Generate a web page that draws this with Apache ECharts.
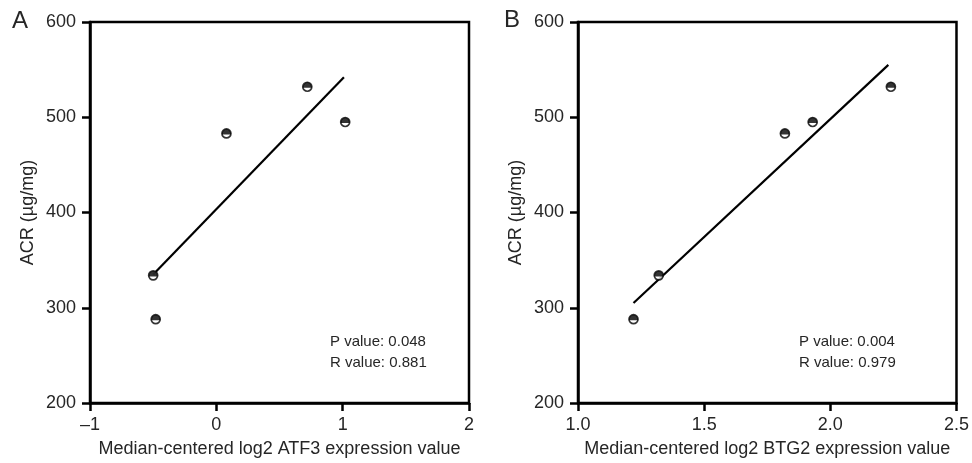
<!DOCTYPE html>
<html><head><meta charset="utf-8">
<script src="https://cdn.jsdelivr.net/npm/echarts@6/dist/echarts.min.js"></script>
<style>html,body{margin:0;padding:0;background:#fff}#c{width:972px;height:463px}</style>
</head><body><div id="c"></div>
<script>
// Data
const acr = [334, 288, 483, 532, 495];
const atf3 = [-0.50, -0.48, 0.08, 0.72, 1.02];
const btg2 = [1.32, 1.22, 1.82, 2.24, 1.93];
const fitA = [[-0.50, 335], [1.01, 542]];
const fitB = [[1.22, 305], [2.23, 555]];
const xTicksA = [-1, 0, 1, 2];
const xTicksB = [1.0, 1.5, 2.0, 2.5];
const yTicks = [200, 300, 400, 500, 600];
const xTitleA = 'Median-centered log2 ATF3 expression value';
const xTitleB = 'Median-centered log2 BTG2 expression value';
const yTitle = 'ACR (µg/mg)';
const statsA = ['P value: 0.048', 'R value: 0.881'];
const statsB = ['P value: 0.004', 'R value: 0.979'];

const FONT = '"Liberation Sans", Arial, sans-serif';
const TXT = '#262626';
const AX = 2.5;
const chart = echarts.init(document.getElementById('c'));

function xAxisCfg(idx, ticks, name, fmt) {
  return {
    gridIndex: idx, type: 'value', min: ticks[0], max: ticks[ticks.length - 1], interval: ticks[1] - ticks[0],
    name, nameLocation: 'middle', nameGap: 37,
    nameTextStyle: {fontFamily: FONT, fontSize: 18, color: TXT},
    axisLine: {show: true, onZero: false, lineStyle: {color: '#000', width: AX}},
    axisTick: {show: true, inside: false, length: 8, lineStyle: {color: '#000', width: AX}},
    axisLabel: {fontFamily: FONT, fontSize: 18, color: TXT, margin: 13, formatter: fmt},
    splitLine: {show: false}
  };
}
function yAxisCfg(idx) {
  return {
    gridIndex: idx, type: 'value', min: yTicks[0], max: yTicks[yTicks.length - 1], interval: yTicks[1] - yTicks[0],
    name: yTitle, nameLocation: 'middle', nameGap: 53,
    nameTextStyle: {fontFamily: FONT, fontSize: 18, color: TXT},
    axisLine: {show: true, onZero: false, lineStyle: {color: '#000', width: AX}},
    axisTick: {show: true, inside: false, length: 8, lineStyle: {color: '#000', width: AX}},
    axisLabel: {fontFamily: FONT, fontSize: 18, color: TXT, margin: 14},
    splitLine: {show: false}
  };
}
const fmtA = v => v < 0 ? '\u2013' + Math.abs(v) : String(v);
const fmtB = v => v.toFixed(1);

function pts(xs) { return xs.map((x, i) => [x, acr[i]]); }
function markerSeries(idx, xs) {
  return [
    {type: 'scatter', xAxisIndex: idx, yAxisIndex: idx, data: pts(xs), symbol: 'circle', symbolSize: 9,
     itemStyle: {color: '#fff', borderColor: '#000', borderWidth: 1.7}, z: 3, silent: true},
    {type: 'scatter', xAxisIndex: idx, yAxisIndex: idx, data: pts(xs),
     symbol: 'path://M0,5 A5,5 0 0 1 10,5 Z', symbolSize: [9, 5.5], symbolOffset: [0, -1.7],
     itemStyle: {color: '#000'}, z: 4, silent: true}
  ];
}
function fitSeries(idx, f) {
  return {type: 'line', xAxisIndex: idx, yAxisIndex: idx, data: f, symbol: 'none',
    lineStyle: {color: '#000', width: 2.2}, z: 2, silent: true};
}

chart.setOption({
  animation: false,
  grid: [
    {left: 90, top: 22, width: 379, height: 382, show: true, borderColor: '#000', borderWidth: AX},
    {left: 578, top: 22, width: 380, height: 382, show: true, borderColor: '#000', borderWidth: AX}
  ],
  xAxis: [xAxisCfg(0, xTicksA, xTitleA, fmtA), xAxisCfg(1, xTicksB, xTitleB, fmtB)],
  yAxis: [yAxisCfg(0), yAxisCfg(1)],
  series: [
    fitSeries(0, fitA), ...markerSeries(0, atf3),
    fitSeries(1, fitB), ...markerSeries(1, btg2)
  ],
  graphic: [
    {type: 'text', left: 12, top: 9, style: {text: 'A', fontFamily: FONT, fontSize: 24, fill: TXT}},
    {type: 'text', left: 504, top: 8, style: {text: 'B', fontFamily: FONT, fontSize: 24, fill: TXT}},
    {type: 'text', left: 330, top: 331, style: {text: statsA.join('\n'), fontFamily: FONT, fontSize: 15, lineHeight: 21, fill: TXT}},
    {type: 'text', left: 799, top: 331, style: {text: statsB.join('\n'), fontFamily: FONT, fontSize: 15, lineHeight: 21, fill: TXT}}
  ]
});
</script></body></html>
